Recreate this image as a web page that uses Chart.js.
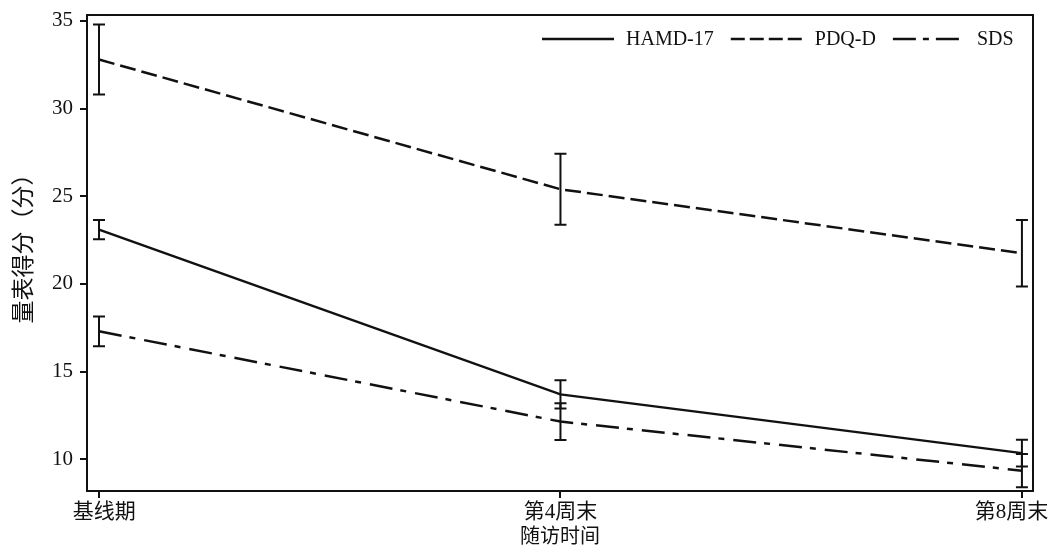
<!DOCTYPE html>
<html lang="zh">
<head>
<meta charset="utf-8">
<title>量表得分随访变化</title>
<script src="https://cdn.jsdelivr.net/npm/chart.js@4/dist/chart.umd.min.js"></script>
<style>
    html, body { margin: 0; padding: 0; background: #fff; }
    #wrap { width: 1050px; height: 547px; }
</style>
</head>
<body>
<div id="wrap"><canvas id="scoreChart" width="1050" height="547"></canvas></div>
<script>
/**
 * Scale scores over follow-up (line chart with error bars)
 */

// Categories (x positions 0, 1, 2)
var visits = ['基线期', '第4周末', '第8周末'];

// Series means
var hamdValues = [23.1, 13.7, 10.35];
var pdqdValues = [32.8, 25.4, 21.75];
var sdsValues = [17.3, 12.15, 9.35];

// Error bar half-widths
var hamdErrors = [0.55, 0.8, 0.76];
var pdqdErrors = [2.0, 2.03, 1.9];
var sdsErrors = [0.85, 1.05, 0.95];

// Y axis tick labels
var yTicks = [10, 15, 20, 25, 30, 35];

var seriesNames = ['HAMD-17', 'PDQ-D', 'SDS'];

(function() {
    'use strict';

    var INK = '#111';
    var FONT = "'Liberation Serif', 'Noto Sans CJK SC', serif";

    function toPoints(values) {
        return values.map(function(v, i) {
            return { x: i, y: v };
        });
    }

    /**
     * Error bars, frame, legend and axis titles
     */
    var decorPlugin = {
        id: 'decor',
        afterDatasetsDraw: function(chart) {
            var ctx = chart.ctx;
            var xs = chart.scales.x;
            var ys = chart.scales.y;
            var area = chart.chartArea;

            // Error bars
            ctx.save();
            ctx.strokeStyle = INK;
            ctx.lineWidth = 2;
            ctx.setLineDash([]);
            chart.data.datasets.forEach(function(ds) {
                ds.errors.forEach(function(err, i) {
                    var px = xs.getPixelForValue(i);
                    var top = ys.getPixelForValue(ds.data[i].y + err);
                    var bot = ys.getPixelForValue(ds.data[i].y - err);
                    ctx.beginPath();
                    ctx.moveTo(px, top);
                    ctx.lineTo(px, bot);
                    ctx.moveTo(px - 6, top);
                    ctx.lineTo(px + 6, top);
                    ctx.moveTo(px - 6, bot);
                    ctx.lineTo(px + 6, bot);
                    ctx.stroke();
                });
            });

            // Frame round the plot area
            ctx.lineWidth = 2;
            ctx.strokeRect(area.left, area.top, area.right - area.left, area.bottom - area.top);

            // Legend inside, top right
            ctx.font = '20px ' + FONT;
            ctx.fillStyle = INK;
            ctx.textBaseline = 'middle';
            ctx.textAlign = 'left';
            ctx.lineWidth = 2.5;
            var x = 542;
            var y = 39;
            chart.data.datasets.forEach(function(ds) {
                ctx.beginPath();
                ctx.setLineDash(ds.legendDash || []);
                ctx.moveTo(x, y);
                ctx.lineTo(x + 72, y);
                ctx.stroke();
                ctx.setLineDash([]);
                x += 72 + 12;
                ctx.fillText(ds.label, x, y + 1);
                x += ctx.measureText(ds.label).width + 17;
            });

            // Axis titles
            ctx.textAlign = 'center';
            ctx.font = '20px ' + FONT;
            ctx.fillText('随访时间', (area.left + area.right) / 2, 538);
            ctx.save();
            ctx.translate(25, 243);
            ctx.rotate(-Math.PI / 2);
            ctx.font = '23px ' + FONT;
            ctx.fillText('量表得分（分）', 0, 0);
            ctx.restore();
            ctx.restore();
        }
    };

    var ctx = document.getElementById('scoreChart').getContext('2d');
    new Chart(ctx, {
        type: 'line',
        data: {
            datasets: [{
                label: seriesNames[0],
                data: toPoints(hamdValues),
                errors: hamdErrors,
                borderDash: [],
                legendDash: []
            }, {
                label: seriesNames[1],
                data: toPoints(pdqdValues),
                errors: pdqdErrors,
                borderDash: [16, 6],
                legendDash: [14, 5]
            }, {
                label: seriesNames[2],
                data: toPoints(sdsValues),
                errors: sdsErrors,
                borderDash: [23, 8, 6, 9],
                legendDash: [23, 7, 6, 7]
            }]
        },
        options: {
            responsive: false,
            animation: false,
            layout: { padding: { top: 15, right: 17, left: 0, bottom: 0 } },
            elements: {
                line: { borderColor: INK, borderWidth: 2.5, tension: 0, fill: false },
                point: { radius: 0, hoverRadius: 0 }
            },
            plugins: {
                legend: { display: false },
                tooltip: { enabled: false }
            },
            scales: {
                x: {
                    type: 'linear',
                    min: -0.026,
                    max: 2.024,
                    afterBuildTicks: function(scale) {
                        scale.ticks = visits.map(function(v, i) { return { value: i }; });
                    },
                    afterFit: function(scale) {
                        scale.height = 56;
                        scale.paddingLeft = 0;
                        scale.paddingRight = 0;
                    },
                    ticks: {
                        color: INK,
                        padding: 2,
                        maxRotation: 0,
                        font: { family: FONT, size: 21 },
                        callback: function(value) {
                            // nudge the end labels inward, as in the original
                            if (value === 0) return '  ' + visits[value];
                            if (value === visits.length - 1) return visits[value] + '\u3000';
                            return visits[value];
                        }
                    },
                    grid: { drawOnChartArea: false, drawTicks: true, tickLength: 7, color: INK, lineWidth: 2 },
                    border: { display: true, color: INK, width: 2 }
                },
                y: {
                    min: 8.19,
                    max: 35.34,
                    afterBuildTicks: function(scale) {
                        scale.ticks = yTicks.map(function(v) { return { value: v }; });
                    },
                    afterFit: function(scale) {
                        scale.width = 87;
                        scale.paddingTop = 0;
                        scale.paddingBottom = 0;
                    },
                    ticks: {
                        color: INK,
                        padding: 7,
                        font: { family: FONT, size: 21 }
                    },
                    grid: { drawOnChartArea: false, drawTicks: true, tickLength: 7, color: INK, lineWidth: 2 },
                    border: { display: true, color: INK, width: 2 }
                }
            }
        },
        plugins: [decorPlugin]
    });
})();
</script>
</body>
</html>
